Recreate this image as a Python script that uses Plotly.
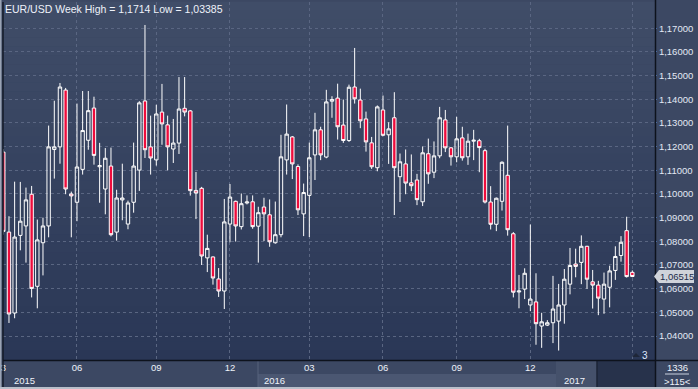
import plotly.graph_objects as go

# ---------------- data (weekly EUR/USD candles) ----------------
opens = [1.1177, 1.0839, 1.0497, 1.0825, 1.0865, 1.0999, 1.0610, 1.0794, 1.0865, 1.1188,
         1.1199, 1.1439, 1.1000, 1.0965, 1.1104, 1.1227, 1.1363, 1.1115, 1.1021, 1.1118,
         1.0839, 1.0975, 1.0873, 1.0965, 1.1101, 1.1393, 1.1199, 1.1144, 1.1346, 1.1292,
         1.1190, 1.1215, 1.1362, 1.1351, 1.1015, 1.1024, 1.0730, 1.0734, 1.0641, 1.0590,
         1.0873, 1.0969, 1.0862, 1.0962, 1.0967, 1.0864, 1.0945, 1.0912, 1.0794, 1.0828,
         1.1144, 1.1241, 1.1116, 1.0916, 1.0994, 1.1165, 1.1271, 1.1156, 1.1392, 1.1405,
         1.1291, 1.1226, 1.1452, 1.1397, 1.1317, 1.1216, 1.1111, 1.1355, 1.1250, 1.1322,
         1.1073, 1.1127, 1.1047, 1.1059, 1.0967, 1.1170, 1.1092, 1.1161, 1.1313, 1.1195,
         1.1157, 1.1237, 1.1157, 1.1223, 1.1225, 1.1183, 1.0966, 1.0872, 1.0969, 1.1079,
         1.0832, 1.0586, 1.0598, 1.0531, 1.0544, 1.0442, 1.0446, 1.0456, 1.0463, 1.0531,
         1.0619, 1.0704, 1.0711, 1.0779, 1.0629, 1.0615, 1.0556, 1.0606, 1.0677, 1.0740,
         1.0845, 1.0669]
highs = [1.1190, 1.0906, 1.1052, 1.1051, 1.1027, 1.1034, 1.0892, 1.0900, 1.1289, 1.1394,
         1.1469, 1.1448, 1.1010, 1.1382, 1.1435, 1.1435, 1.1411, 1.1216, 1.1194, 1.1196,
         1.1018, 1.1128, 1.0972, 1.1217, 1.1392, 1.1714, 1.1331, 1.1377, 1.1465, 1.1331,
         1.1317, 1.1494, 1.1494, 1.1355, 1.1093, 1.1030, 1.0828, 1.0736, 1.0687, 1.0979,
         1.1042, 1.0972, 1.1002, 1.0994, 1.0994, 1.0946, 1.0984, 1.0977, 1.0968, 1.1250,
         1.1378, 1.1245, 1.1125, 1.1044, 1.1217, 1.1343, 1.1284, 1.1440, 1.1413, 1.1466,
         1.1399, 1.1462, 1.1617, 1.1445, 1.1348, 1.1241, 1.1374, 1.1416, 1.1303, 1.1430,
         1.1171, 1.1188, 1.1167, 1.1085, 1.1201, 1.1234, 1.1222, 1.1368, 1.1355, 1.1198,
         1.1326, 1.1284, 1.1255, 1.1271, 1.1233, 1.1191, 1.1033, 1.0985, 1.1138, 1.1289,
         1.0839, 1.0658, 1.0686, 1.0871, 1.0665, 1.0498, 1.0467, 1.0654, 1.0620, 1.0683,
         1.0772, 1.0769, 1.0825, 1.0781, 1.0679, 1.0633, 1.0668, 1.0697, 1.0779, 1.0822,
         1.0904, 1.0677]
lows = [1.0828, 1.0455, 1.0475, 1.0762, 1.0710, 1.0563, 1.0517, 1.0656, 1.0817, 1.1065,
        1.1128, 1.0999, 1.0817, 1.0885, 1.1082, 1.1187, 1.1124, 1.0963, 1.0914, 1.0821,
        1.0803, 1.0889, 1.0851, 1.0921, 1.1013, 1.1152, 1.1082, 1.1120, 1.1208, 1.1100,
        1.1131, 1.1169, 1.1328, 1.0993, 1.0894, 1.0700, 1.0670, 1.0617, 1.0565, 1.0514,
        1.0796, 1.0799, 1.0850, 1.0956, 1.0853, 1.0710, 1.0801, 1.0777, 1.0790, 1.0817,
        1.1082, 1.1063, 1.0911, 1.0822, 1.0818, 1.1059, 1.1143, 1.1151, 1.1322, 1.1230,
        1.1216, 1.1220, 1.1382, 1.1278, 1.1179, 1.1106, 1.1096, 1.1244, 1.1127, 1.0911,
        1.0966, 1.0999, 1.1012, 1.0953, 1.0949, 1.1043, 1.1067, 1.1151, 1.1177, 1.1120,
        1.1134, 1.1141, 1.1123, 1.1143, 1.1092, 1.0960, 1.0850, 1.0843, 1.0930, 1.0824,
        1.0563, 1.0517, 1.0556, 1.0505, 1.0363, 1.0350, 1.0442, 1.0370, 1.03385, 1.0452,
        1.0576, 1.0648, 1.0619, 1.0599, 1.0516, 1.0488, 1.0494, 1.0521, 1.0637, 1.0714,
        1.0647, 1.06485]
closes = [1.0842, 1.0493, 1.0818, 1.0885, 1.0975, 1.0601, 1.0806, 1.0865, 1.1199, 1.1199,
          1.1452, 1.1021, 1.0992, 1.1114, 1.1268, 1.1352, 1.1163, 1.1120, 1.1151, 1.0828,
          1.0983, 1.0983, 1.0962, 1.1118, 1.1385, 1.1187, 1.1152, 1.1338, 1.1296, 1.1199,
          1.1215, 1.1359, 1.1346, 1.1014, 1.1004, 1.0738, 1.0770, 1.0645, 1.0590, 1.0882,
          1.0987, 1.0865, 1.0959, 1.0966, 1.0862, 1.0921, 1.0916, 1.0798, 1.0828, 1.1157,
          1.1253, 1.1127, 1.0933, 1.1006, 1.1153, 1.1271, 1.1165, 1.1389, 1.1399, 1.1284,
          1.1226, 1.1451, 1.1402, 1.1309, 1.1220, 1.1115, 1.1368, 1.1248, 1.1275, 1.1111,
          1.1136, 1.1046, 1.1035, 1.0976, 1.1174, 1.1085, 1.1161, 1.1322, 1.1195, 1.1157,
          1.1233, 1.1153, 1.1223, 1.1227, 1.1196, 1.0966, 1.0872, 1.0982, 1.1134, 1.0849,
          1.0585, 1.0590, 1.0665, 1.0556, 1.0452, 1.0460, 1.0456, 1.0514, 1.0531, 1.0640,
          1.0698, 1.0694, 1.0779, 1.0640, 1.0615, 1.0560, 1.0619, 1.0675, 1.0736, 1.0796,
          1.0651, 1.06515]
bar_index = list(range(len(opens)))

month_tick_idx = [0, 13, 27, 40, 54, 67, 80, 93, 111]
month_tick_labels = ["3", "06", "09", "12", "03", "06", "09", "12",
                     "<span style='color:#6f7c96'>04</span>"]
year_labels = ["2015", "2016", "2017"]
price_levels = [round(1.04 + 0.01 * k, 2) for k in range(14)]
price_labels = ["1,%05d" % round((v - 1) * 100000) for v in price_levels]
title_text = "EUR/USD Week High = 1,1714 Low = 1,03385"
last_price = 1.06515
last_price_label = "1,06515"
bars_top, bars_bottom = "1336", ">115<"

# ---------------- geometry ----------------
W, H = 698, 389
L, R, T, B = 3, 43, 2, 29
PW, PH = W - L - R, H - T - B
Y0, Y1 = 1.02986, 1.18111


def px(xp):
    return (xp - L) / PW


def py(yp):
    return (H - B - yp) / PH


FONT = "Liberation Sans, Arial, sans-serif"

fig = go.Figure()
fig.add_trace(go.Candlestick(
    x=bar_index, open=opens, high=highs, low=lows, close=closes,
    increasing=dict(line=dict(color="#ffffff", width=1), fillcolor="rgba(0,0,0,0)"),
    decreasing=dict(line=dict(color="#ffffff", width=1), fillcolor="#ee0c3c"),
    whiskerwidth=0, hoverinfo="skip", showlegend=False,
))

shapes = []
# gradient plot background
top_c, bot_c = (64, 77, 104), (42, 55, 86)
n = 40
for k in range(n):
    f = (k + 0.5) / n
    c = tuple(round(top_c[j] + (bot_c[j] - top_c[j]) * f) for j in range(3))
    shapes.append(dict(type="rect", xref="paper", yref="paper", x0=0, x1=1,
                       y0=1 - (k + 1) / n, y1=1 - k / n + 0.001, layer="below",
                       line=dict(width=0), fillcolor="rgb(%d,%d,%d)" % c))
# bottom axis strip cells
shapes.append(dict(type="rect", xref="paper", yref="paper", x0=px(258), x1=px(556),
                   y0=py(387), y1=py(374), line=dict(width=0), fillcolor="#4b5772"))
shapes.append(dict(type="rect", xref="paper", yref="paper", x0=px(556), x1=px(597),
                   y0=py(387), y1=py(361), line=dict(width=0), fillcolor="#45516b"))
shapes.append(dict(type="rect", xref="paper", yref="paper", x0=px(597), x1=px(655),
                   y0=py(387), y1=py(361), line=dict(width=0), fillcolor="#27324b"))
shapes.append(dict(type="line", xref="paper", yref="paper", x0=px(258), x1=px(258),
                   y0=py(387), y1=py(361), line=dict(width=1, color="#56627c")))
shapes.append(dict(type="line", xref="paper", yref="paper", x0=px(597), x1=px(597),
                   y0=py(387), y1=py(361), line=dict(width=1.5, color="#1c2436")))
# plot frame lines
shapes.append(dict(type="line", xref="paper", yref="paper", x0=0, x1=0,
                   y0=py(387), y1=1, line=dict(width=1.5, color="#151b28")))
shapes.append(dict(type="line", xref="paper", yref="paper", x0=px(655.5), x1=px(655.5),
                   y0=py(387), y1=py(0), line=dict(width=1.5, color="#0d121c")))
shapes.append(dict(type="line", xref="paper", yref="paper", x0=0, x1=px(698),
                   y0=py(360.5), y1=py(360.5), line=dict(width=1.5, color="#0d121c")))
# outer light frame (left and bottom)
shapes.append(dict(type="rect", xref="paper", yref="paper", x0=px(0), x1=px(1.5),
                   y0=py(389), y1=py(0), line=dict(width=0), fillcolor="#9aa3b4"))
shapes.append(dict(type="rect", xref="paper", yref="paper", x0=px(0), x1=px(698),
                   y0=py(389), y1=py(387), line=dict(width=0), fillcolor="#b9bfca"))
# separator in bars counter
shapes.append(dict(type="line", xref="paper", yref="paper", x0=px(665), x1=px(689),
                   y0=py(374), y1=py(374), line=dict(width=1, color="#c9d1e0")))
# last price marker
dy = 6.5 * (Y1 - Y0) / PH
shapes.append(dict(type="path", xref="paper", yref="y",
                   path="M %f,%f L %f,%f L %f,%f L %f,%f L %f,%f Z" % (
                       px(654), last_price, px(659), last_price + dy, px(694), last_price + dy,
                       px(694), last_price - dy, px(659), last_price - dy),
                   line=dict(width=0), fillcolor="#cfd3da"))
# small triangle near the "3" marker
shapes.append(dict(type="path", xref="paper", yref="paper",
                   path="M %f,%f L %f,%f L %f,%f Z" % (px(632), py(357), px(636), py(353),
                                                        px(640), py(357)),
                   line=dict(width=0), fillcolor="#1e2638"))

annotations = [
    dict(text=title_text, xref="paper", yref="paper", x=px(3), y=py(8.5), xanchor="left",
         yanchor="middle", showarrow=False, font=dict(family=FONT, size=10.5, color="#eef2fa")),
    dict(text=year_labels[0], xref="paper", yref="paper", x=px(12), y=py(380.5), xanchor="left",
         yanchor="middle", showarrow=False, font=dict(family=FONT, size=9.5, color="#eef2fa")),
    dict(text=year_labels[1], xref="paper", yref="paper", x=px(262), y=py(380.5), xanchor="left",
         yanchor="middle", showarrow=False, font=dict(family=FONT, size=9.5, color="#eef2fa")),
    dict(text=year_labels[2], xref="paper", yref="paper", x=px(562), y=py(380.5), xanchor="left",
         yanchor="middle", showarrow=False, font=dict(family=FONT, size=9.5, color="#eef2fa")),
    dict(text=bars_top, xref="paper", yref="paper", x=px(677), y=py(367.5), xanchor="center",
         yanchor="middle", showarrow=False, font=dict(family=FONT, size=9.5, color="#eef2fa")),
    dict(text=bars_bottom, xref="paper", yref="paper", x=px(677), y=py(381), xanchor="center",
         yanchor="middle", showarrow=False, font=dict(family=FONT, size=9.5, color="#eef2fa")),
    dict(text="3", xref="paper", yref="paper", x=px(640), y=py(355), xanchor="left",
         yanchor="middle", showarrow=False, font=dict(family=FONT, size=10, color="#dfe8ff")),
    dict(text=last_price_label, xref="paper", yref="y", x=px(657.5), y=last_price, xanchor="left",
         yanchor="middle", showarrow=False, font=dict(family=FONT, size=9.5, color="#1d2b4a")),
]

fig.update_layout(
    width=W, height=H,
    margin=dict(l=L, r=R, t=T, b=B, pad=0),
    paper_bgcolor="#3c4863", plot_bgcolor="#34405c",
    boxgap=0.15,
    shapes=shapes, annotations=annotations, showlegend=False,
    xaxis=dict(range=[-0.053, 115.0], rangeslider=dict(visible=False),
               tickmode="array", tickvals=month_tick_idx, ticktext=month_tick_labels,
               showgrid=True, gridcolor="#5a6682", griddash="3px,3px", gridwidth=1,
               zeroline=False, showline=False, ticks="", ticklen=0,
               tickfont=dict(family=FONT, size=9.5, color="#eef2fa"), fixedrange=True),
    yaxis=dict(range=[Y0, Y1], side="right", tickmode="array",
               tickvals=price_levels, ticktext=price_labels,
               showgrid=True, gridcolor="#5a6682", griddash="3px,3px", gridwidth=1,
               zeroline=False, showline=False, ticks="outside", ticklen=1,
               tickcolor="#5b87cf",
               tickfont=dict(family=FONT, size=9.5, color="#e3e9f5"), fixedrange=True),
)

fig.write_html("out.html", config={"displayModeBar": False},
               post_script="document.body.style.margin='0px';document.body.style.overflow='hidden';")
